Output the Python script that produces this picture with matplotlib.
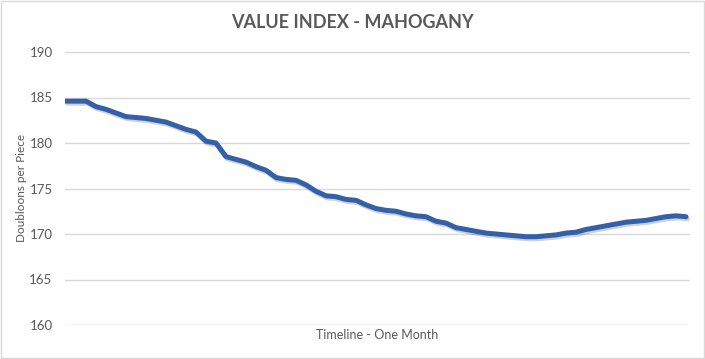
import matplotlib
matplotlib.use('Agg')
import matplotlib.pyplot as plt
import matplotlib.patheffects as pe
from matplotlib.patches import Rectangle

# value, one point roughly every ~half day
value_index = [184.6, 184.6, 184.6, 184.0, 183.7, 183.3, 182.9, 182.8, 182.7, 182.5,
               182.3, 181.9, 181.5, 181.2, 180.2, 180.0, 178.5, 178.2, 177.9, 177.4,
               177.0, 176.2, 176.0, 175.9, 175.4, 174.7, 174.2, 174.1, 173.8, 173.7,
               173.2, 172.8, 172.6, 172.5, 172.2, 172.0, 171.9, 171.4, 171.2, 170.7,
               170.5, 170.3, 170.1, 170.0, 169.9, 169.8, 169.7, 169.7, 169.8, 169.9,
               170.1, 170.2, 170.5, 170.7, 170.9, 171.1, 171.3, 171.4, 171.5, 171.7,
               171.9, 172.0, 171.9]
y_ticks = [160, 165, 170, 175, 180, 185, 190]

title = 'VALUE INDEX - MAHOGANY'
xlabel = 'Timeline - One Month'
ylabel = 'Doubloons per Piece'

text_grey = '#595959'
line_blue = '#3360A8'

plt.rcParams['font.family'] = ['Lato', 'DejaVu Sans']

fig = plt.figure(figsize=(7.05, 3.59), dpi=100)
ax = fig.add_axes([65/705, 1 - 325/359, 625/705, 273/359])

xs = list(range(len(value_index)))
ax.plot(xs, value_index, color=line_blue, linewidth=3.6, solid_capstyle='round',
        path_effects=[pe.SimpleLineShadow(offset=(1, -1.5), shadow_color='#000000', alpha=0.18),
                      pe.Normal()])

ax.set_ylim(160, 190)
ax.set_xlim(-0.1, len(value_index) - 1 + 0.4)
ax.set_yticks(y_ticks)
ax.set_xticks([])
ax.grid(axis='y', color='#D9D9D9', linewidth=1)
ax.set_axisbelow(True)
for s in ax.spines.values():
    s.set_visible(False)
ax.tick_params(axis='y', length=0, pad=9, labelsize=9.5, labelcolor=text_grey)

ax.set_xlabel(xlabel, fontsize=9, color=text_grey, labelpad=3)
fig.text(22/705, 1 - 188/359, ylabel, rotation=90, ha='center', va='center',
         fontsize=8.5, color=text_grey)
fig.text(0.5, 1 - 22/359, title, ha='center', va='center', fontsize=13,
         fontweight='bold', color=text_grey)

fig.patches.append(Rectangle((0.001, 0.002), 0.997, 0.995, transform=fig.transFigure,
                             fill=False, edgecolor='#D9D9D9', linewidth=1))

fig.savefig('out.png', dpi=100)
